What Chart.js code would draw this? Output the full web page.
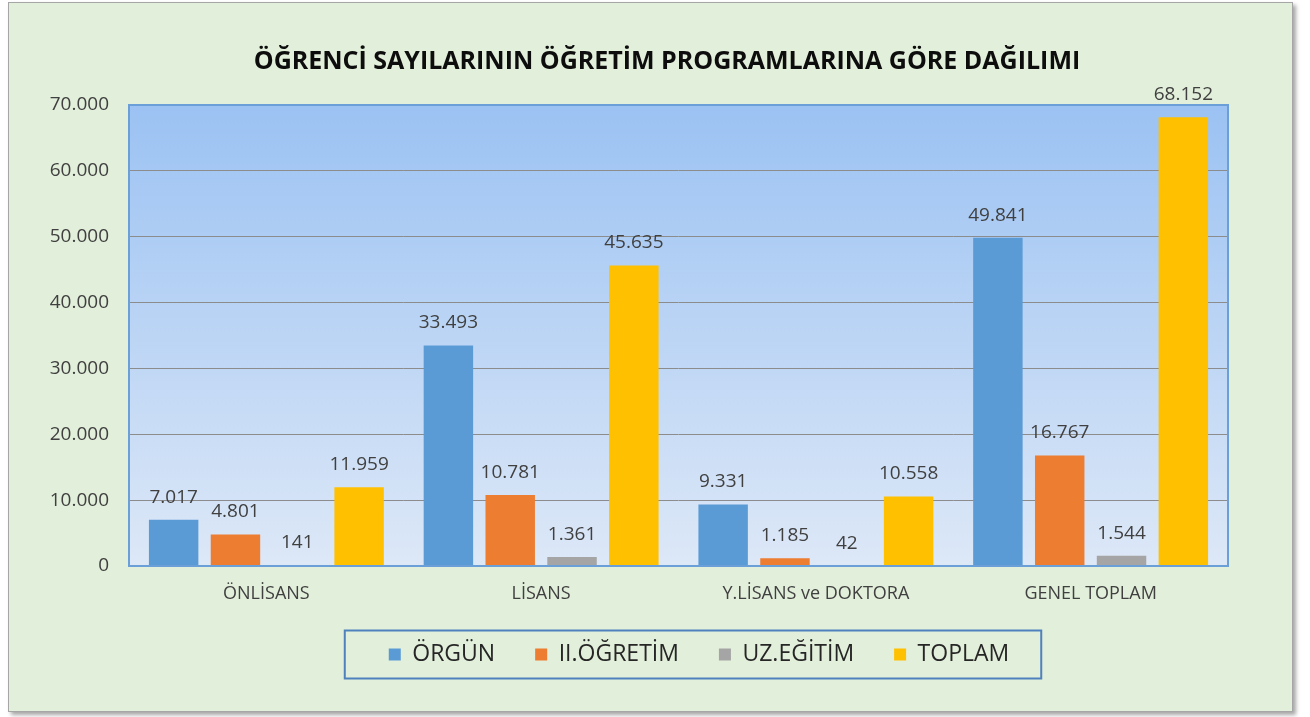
<!DOCTYPE html>
<html lang="tr">
<head>
<meta charset="utf-8">
<title>Öğrenci Sayıları</title>
<script src="https://cdn.jsdelivr.net/npm/chart.js@4.4.1/dist/chart.umd.min.js"></script>
<style>
    html, body { margin: 0; padding: 0; background: #ffffff; }
    #panel {
        position: absolute;
        left: 8px;
        top: 2px;
        width: 1283px;
        height: 708px;
        background: #e2efda;
        border: 1px solid #a6a6a6;
        box-shadow: 3px 3px 4px rgba(0, 0, 0, 0.35);
    }
    #chart { display: block; }
</style>
</head>
<body>
<div id="panel">
    <canvas id="chart" width="1283" height="708"></canvas>
</div>
<script>
    // categories (program types)
    const categories = ['ÖNLİSANS', 'LİSANS', 'Y.LİSANS ve DOKTORA', 'GENEL TOPLAM'];

    // series values
    const orgun = [7017, 33493, 9331, 49841];
    const ikinciOgretim = [4801, 10781, 1185, 16767];
    const uzEgitim = [141, 1361, 42, 1544];
    const toplam = [11959, 45635, 10558, 68152];

    const seriesNames = ['ÖRGÜN', 'II.ÖĞRETİM', 'UZ.EĞİTİM', 'TOPLAM'];
    const seriesColors = ['#5b9bd5', '#ed7d31', '#a5a5a5', '#ffc000'];

    // y axis range
    const yMax = 70000;
    const yStep = 10000;

    const FONT = '"Open Sans", "DejaVu Sans", sans-serif';

    // where the title and legend are centred (canvas x), the original sits right of the plot centre
    const TITLE_CX = 658;
    const LEGEND_CX = 690;

    // 12345 -> "12.345" (Turkish thousands separator)
    function fmt(v) {
        return String(v).replace(/\B(?=(\d{3})+(?!\d))/g, '.');
    }

    // move title and legend boxes sideways after layout
    const shiftBoxes = {
        id: 'shiftBoxes',
        afterLayout(chart) {
            const t = chart.titleBlock;
            if (t) {
                const d = TITLE_CX - (t.left + t.right) / 2;
                t.left += d;
                t.right += d;
            }
            const lg = chart.legend;
            if (lg) {
                const d = LEGEND_CX - (lg.left + lg.right) / 2;
                lg.left += d;
                lg.right += d;
            }
        }
    };

    // gradient plot background + blue frame
    const plotBackground = {
        id: 'plotBackground',
        beforeDraw(chart) {
            const { ctx, chartArea: a } = chart;
            const g = ctx.createLinearGradient(0, a.top, 0, a.bottom);
            g.addColorStop(0, '#9bc2f3');
            g.addColorStop(1, '#dde8f7');
            ctx.save();
            ctx.fillStyle = g;
            ctx.fillRect(a.left, a.top, a.right - a.left, a.bottom - a.top);
            ctx.restore();
        },
        afterDraw(chart) {
            const { ctx, chartArea: a } = chart;
            ctx.save();
            ctx.strokeStyle = '#6a9fd8';
            ctx.lineWidth = 2;
            ctx.strokeRect(a.left, a.top, a.right - a.left, a.bottom - a.top);
            ctx.restore();
        }
    };

    // value labels above each bar
    const barLabels = {
        id: 'barLabels',
        afterDatasetsDraw(chart) {
            const { ctx } = chart;
            ctx.save();
            ctx.font = '19px ' + FONT;
            ctx.fillStyle = '#404040';
            ctx.textAlign = 'center';
            ctx.textBaseline = 'bottom';
            chart.data.datasets.forEach((ds, i) => {
                chart.getDatasetMeta(i).data.forEach((bar, j) => {
                    ctx.fillText(fmt(ds.data[j]), bar.x, bar.y - 13);
                });
            });
            ctx.restore();
        }
    };

    // frame around the legend items
    const legendFrame = {
        id: 'legendFrame',
        afterDraw(chart) {
            const lg = chart.legend;
            if (!lg || !lg.legendHitBoxes.length) return;
            const boxes = lg.legendHitBoxes;
            const first = boxes[0];
            const last = boxes[boxes.length - 1];
            const x0 = first.left - 44;
            const x1 = last.left + last.width + 32;
            const cy = first.top + first.height / 2;
            const { ctx } = chart;
            ctx.save();
            ctx.strokeStyle = '#4f81bd';
            ctx.lineWidth = 2;
            ctx.strokeRect(x0, cy - 24, x1 - x0, 48);
            ctx.restore();
        }
    };

    const datasets = [orgun, ikinciOgretim, uzEgitim, toplam].map((values, i) => ({
        label: seriesNames[i],
        data: values,
        backgroundColor: seriesColors[i],
        borderWidth: 0,
        categoryPercentage: 0.9,
        barPercentage: 0.8
    }));

    new Chart(document.getElementById('chart').getContext('2d'), {
        type: 'bar',
        data: { labels: categories, datasets },
        options: {
            responsive: false,
            animation: false,
            layout: { padding: { top: 0, right: 64, bottom: 35, left: 0 } },
            plugins: {
                title: {
                    display: true,
                    text: 'ÖĞRENCİ SAYILARININ ÖĞRETİM PROGRAMLARINA GÖRE DAĞILIMI',
                    color: '#0d0d0d',
                    font: { family: FONT, size: 25, weight: 'bold' },
                    padding: { top: 44, bottom: 28 }
                },
                legend: {
                    position: 'bottom',
                    labels: {
                        color: '#262626',
                        font: { family: FONT, size: 23 },
                        boxWidth: 12,
                        boxHeight: 12,
                        padding: 40
                    }
                },
                tooltip: { enabled: false }
            },
            scales: {
                x: {
                    grid: { display: false },
                    border: { display: false },
                    ticks: {
                        color: '#404040',
                        font: { family: FONT, size: 18 },
                        padding: 9
                    },
                    afterFit(scale) { scale.height = 37; }
                },
                y: {
                    min: 0,
                    max: yMax,
                    grid: { color: '#8c8c8c', lineWidth: 1, drawTicks: false },
                    border: { display: false },
                    ticks: {
                        stepSize: yStep,
                        color: '#404040',
                        font: { family: FONT, size: 19 },
                        padding: 20,
                        callback: v => fmt(v)
                    },
                    afterFit(scale) { scale.width = 120; }
                }
            }
        },
        plugins: [shiftBoxes, plotBackground, barLabels, legendFrame]
    });
</script>
</body>
</html>
